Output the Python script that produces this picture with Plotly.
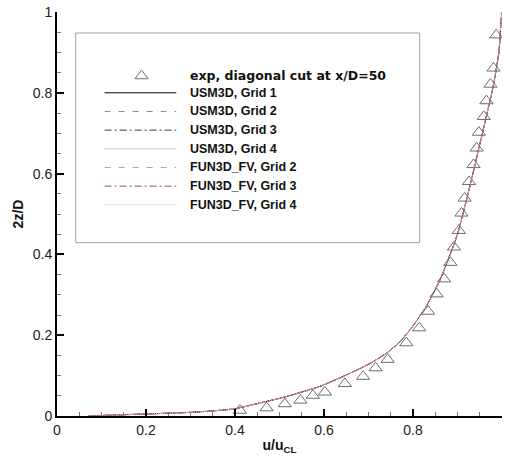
import plotly.graph_objects as go

# Experimental data: diagonal cut at x/D = 50
u_exp = [0.411, 0.471, 0.512, 0.547, 0.575, 0.602, 0.647, 0.688, 0.716, 0.743,
         0.785, 0.814, 0.834, 0.853, 0.870, 0.884, 0.892, 0.903, 0.909, 0.916,
         0.926, 0.936, 0.943, 0.948, 0.959, 0.965, 0.974, 0.981, 0.987]
z_exp = [0.014, 0.020, 0.030, 0.039, 0.051, 0.059, 0.080, 0.098, 0.119, 0.140,
         0.181, 0.218, 0.259, 0.302, 0.339, 0.380, 0.418, 0.459, 0.502, 0.539,
         0.580, 0.622, 0.663, 0.702, 0.741, 0.780, 0.821, 0.861, 0.943]

# CFD profiles (USM3D and FUN3D_FV grids collapse onto one curve)
u_usm3d = [0.07, 0.12, 0.20, 0.30, 0.366, 0.40, 0.44, 0.515, 0.59, 0.643, 0.70,
           0.74, 0.77, 0.80, 0.83, 0.86, 0.88, 0.90, 0.927, 0.957, 0.98, 0.993, 0.998]
z_usm3d = [0.0, 0.002, 0.005, 0.009, 0.014, 0.018, 0.028, 0.048, 0.073, 0.098, 0.128,
           0.155, 0.183, 0.223, 0.272, 0.335, 0.39, 0.45, 0.565, 0.705, 0.815, 0.90, 0.985]
u_fun3d = [0.07, 0.12, 0.20, 0.30, 0.366, 0.40, 0.44, 0.515, 0.59, 0.643, 0.70,
           0.74, 0.77, 0.80, 0.83, 0.86, 0.88, 0.90, 0.927, 0.957, 0.98, 0.993, 0.998, 0.999]
z_fun3d = [0.0, 0.002, 0.005, 0.009, 0.014, 0.018, 0.028, 0.048, 0.073, 0.098, 0.128,
           0.155, 0.183, 0.223, 0.272, 0.335, 0.39, 0.45, 0.565, 0.705, 0.815, 0.90, 0.985, 1.0]

exp_label = "exp, diagonal cut at x/D=50"
series = [
    ("USM3D, Grid 1", u_usm3d, z_usm3d, "#000000", "solid"),
    ("USM3D, Grid 2", u_usm3d, z_usm3d, "#8a8a8a", "6px,8px"),
    ("USM3D, Grid 3", u_usm3d, z_usm3d, "#3a3a3a", "7px,3px,2px,3px"),
    ("USM3D, Grid 4", u_usm3d, z_usm3d, "#9a9a9a", "1px,1px"),
    ("FUN3D_FV, Grid 2", u_fun3d, z_fun3d, "#e08c8c", "6px,8px"),
    ("FUN3D_FV, Grid 3", u_fun3d, z_fun3d, "#a04646", "7px,3px,2px,3px"),
    ("FUN3D_FV, Grid 4", u_fun3d, z_fun3d, "#e8b4b4", "1px,1px"),
]

FONT = "Liberation Sans, Arial, sans-serif"

fig = go.Figure()

for name, u, z, color, dash in series:
    fig.add_trace(go.Scatter(
        x=u, y=z, mode="lines", name=name, showlegend=False,
        line=dict(color=color, width=1, dash=dash, shape="spline", smoothing=0.5),
    ))

fig.add_trace(go.Scatter(
    x=u_exp, y=z_exp, mode="markers", name=exp_label, showlegend=False,
    marker=dict(symbol="triangle-up-open", size=11.5, color="#6e6e6e",
                line=dict(width=1, color="#6e6e6e")),
))

# Hand-drawn legend box in paper coordinates
shapes = [dict(type="rect", xref="paper", yref="paper",
               x0=0.042, x1=0.815, y0=0.429, y1=0.948,
               line=dict(color="#a0a0a0", width=1), fillcolor="rgba(0,0,0,0)")]
annotations = []

row_top = 0.842
row_first_gap = 0.042
row_step = 0.0462
sample_x0, sample_x1, sym_x, text_x = 0.107, 0.268, 0.19, 0.294

# marker symbol row
hw, up, dn = 6.6 / 445, 5.8 / 404.5, 2.9 / 404.5
shapes.append(dict(
    type="path", xref="paper", yref="paper",
    path=f"M {sym_x - hw},{row_top - dn} L {sym_x + hw},{row_top - dn} L {sym_x},{row_top + up} Z",
    line=dict(color="#6e6e6e", width=1)))
annotations.append(dict(xref="paper", yref="paper", x=text_x, y=row_top,
                        xanchor="left", yanchor="middle", showarrow=False,
                        text=exp_label,
                        font=dict(family="DejaVu Sans, sans-serif", size=12.5,
                                  color="#111", weight="bold")))

for i, (name, u, z, color, dash) in enumerate(series):
    yrow = row_top - row_first_gap - i * row_step
    shapes.append(dict(type="line", xref="paper", yref="paper",
                       x0=sample_x0, x1=sample_x1, y0=yrow, y1=yrow,
                       line=dict(color=color, width=1, dash=dash)))
    annotations.append(dict(xref="paper", yref="paper", x=text_x, y=yrow,
                            xanchor="left", yanchor="middle", showarrow=False,
                            text=name,
                            font=dict(family=FONT, size=12.5, color="#111", weight="bold")))

axis_common = dict(
    range=[0, 1], dtick=0.2, tick0=0,
    showline=True, linewidth=2, linecolor="black",
    ticks="inside", ticklen=7, tickwidth=2, tickcolor="black",
    minor=dict(ticks="inside", ticklen=4, tickwidth=1, tickcolor="#7a7a7a", dtick=0.05),
    showgrid=False, zeroline=False,
    tickfont=dict(family=FONT, size=14, color="#222"),
)

fig.update_layout(
    width=505, height=461,
    margin=dict(l=57, r=3, t=12, b=45),
    paper_bgcolor="white", plot_bgcolor="white",
    showlegend=False,
    xaxis=dict(axis_common,
               title=dict(text="u/u<sub>CL</sub>", standoff=3,
                          font=dict(family=FONT, size=14, color="#111", weight="bold"))),
    yaxis=dict(axis_common,
               title=dict(text="2z/D", standoff=6,
                          font=dict(family=FONT, size=14, color="#111", weight="bold"))),
    shapes=shapes,
    annotations=annotations,
)

fig.write_html("out.html")
